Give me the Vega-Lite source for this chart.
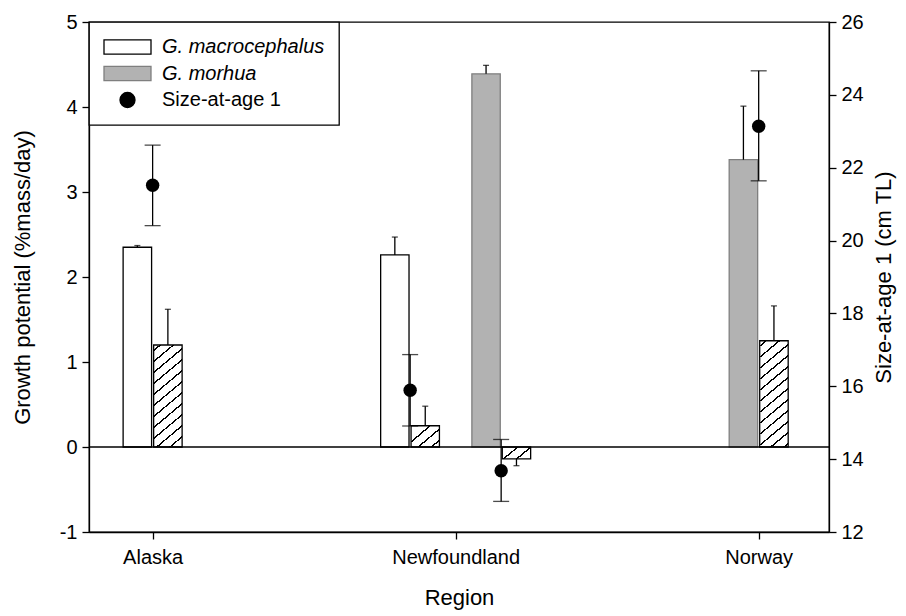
{
  "$schema": "https://vega.github.io/schema/vega-lite/v6.json",
  "width": 740,
  "height": 510,
  "autosize": {"type": "none"},
  "padding": {"left": 89, "top": 22, "right": 77, "bottom": 84},
  "background": "white",
  "datasets": {
    "bars": [
      {"Region": "Alaska", "Species": "G. macrocephalus", "Series": "G. macrocephalus (1)", "Set": 1, "Growth": 2.35, "ErrEnd": 2.37},
      {"Region": "Alaska", "Species": "G. macrocephalus", "Series": "G. macrocephalus (2)", "Set": 2, "Growth": 1.20, "ErrEnd": 1.62},
      {"Region": "Newfoundland", "Species": "G. macrocephalus", "Series": "G. macrocephalus (1)", "Set": 1, "Growth": 2.26, "ErrEnd": 2.47},
      {"Region": "Newfoundland", "Species": "G. macrocephalus", "Series": "G. macrocephalus (2)", "Set": 2, "Growth": 0.25, "ErrEnd": 0.48},
      {"Region": "Newfoundland", "Species": "G. morhua", "Series": "G. morhua (1)", "Set": 1, "Growth": 4.39, "ErrEnd": 4.49},
      {"Region": "Newfoundland", "Species": "G. morhua", "Series": "G. morhua (2)", "Set": 2, "Growth": -0.14, "ErrEnd": -0.22},
      {"Region": "Norway", "Species": "G. morhua", "Series": "G. morhua (1)", "Set": 1, "Growth": 3.38, "ErrEnd": 4.01},
      {"Region": "Norway", "Species": "G. morhua", "Series": "G. morhua (2)", "Set": 2, "Growth": 1.25, "ErrEnd": 1.66}
    ],
    "points": [
      {"Region": "Alaska", "Species": "G. macrocephalus", "Size": 21.52, "Lower": 20.41, "Upper": 22.62},
      {"Region": "Newfoundland", "Species": "G. macrocephalus", "Size": 15.89, "Lower": 14.91, "Upper": 16.87},
      {"Region": "Newfoundland", "Species": "G. morhua", "Size": 13.68, "Lower": 12.84, "Upper": 14.54},
      {"Region": "Norway", "Species": "G. morhua", "Size": 23.14, "Lower": 21.64, "Upper": 24.66}
    ],
    "baseline": [{"Baseline": 0}]
  },
  "layer": [
    {
      "layer": [
        {
          "data": {"name": "bars"},
          "encoding": {
            "x": {"field": "Region", "type": "nominal", "sort": null, "scale": {"type": "point", "domain": ["Alaska", "Newfoundland", "Norway"], "padding": 0.221, "align": 0.475}, "axis": {"title": "Region", "labelAngle": 0}}
          },
          "layer": [
            {
              "transform": [{"filter": "datum.Region === 'Alaska'"}],
              "encoding": {
                "xOffset": {"field": "Series", "type": "nominal", "scale": {"type": "band", "domain": ["G. macrocephalus (1)", "G. macrocephalus (2)"], "range": [-29.5, 29.5], "paddingInner": 0.067, "paddingOuter": 0}}
              },
              "layer": [
                {
                  "mark": {"type": "bar", "strokeWidth": 1.3},
                  "encoding": {
                    "y": {"field": "Growth", "type": "quantitative", "stack": null, "scale": {"domain": [-1, 5], "nice": false, "zero": false}, "axis": {"title": "Growth potential (%mass/day)", "values": [-1, 0, 1, 2, 3, 4, 5], "orient": "left", "labelExpr": "'' + datum.value"}},
                    "fill": {
                      "field": "Species", "type": "nominal",
                      "scale": {"domain": ["G. macrocephalus", "G. morhua", "Size-at-age 1"], "range": ["white", "#b2b2b2", "black"]},
                      "legend": {
                        "title": null,
                        "symbolType": {"expr": "datum.value === 'Size-at-age 1' ? 'M-0.32,0A0.32,0.32,0,1,1,0.32,0A0.32,0.32,0,1,1,-0.32,0Z' : 'M-1,-0.3H1V0.3H-1Z'"},
                        "symbolStrokeColor": {"expr": "datum.value === 'G. morhua' ? '#7f7f7f' : 'black'"},
                        "labelFontStyle": {"expr": "datum.value === 'Size-at-age 1' ? 'normal' : 'italic'"}
                      },
                      "condition": {"test": "datum.Set === 2", "value": {"gradient": "linear", "x1": 0, "y1": 0, "x2": 0.2729, "y2": 1.1697, "stops": [
                        {"offset": 0, "color": "white"},
                        {"offset": 0.0365, "color": "white"}, {"offset": 0.0365, "color": "black"}, {"offset": 0.0509, "color": "black"}, {"offset": 0.0509, "color": "white"},
                        {"offset": 0.1240, "color": "white"}, {"offset": 0.1240, "color": "black"}, {"offset": 0.1383, "color": "black"}, {"offset": 0.1383, "color": "white"},
                        {"offset": 0.2114, "color": "white"}, {"offset": 0.2114, "color": "black"}, {"offset": 0.2258, "color": "black"}, {"offset": 0.2258, "color": "white"},
                        {"offset": 0.2989, "color": "white"}, {"offset": 0.2989, "color": "black"}, {"offset": 0.3132, "color": "black"}, {"offset": 0.3132, "color": "white"},
                        {"offset": 0.3863, "color": "white"}, {"offset": 0.3863, "color": "black"}, {"offset": 0.4006, "color": "black"}, {"offset": 0.4006, "color": "white"},
                        {"offset": 0.4738, "color": "white"}, {"offset": 0.4738, "color": "black"}, {"offset": 0.4881, "color": "black"}, {"offset": 0.4881, "color": "white"},
                        {"offset": 0.5612, "color": "white"}, {"offset": 0.5612, "color": "black"}, {"offset": 0.5755, "color": "black"}, {"offset": 0.5755, "color": "white"},
                        {"offset": 0.6486, "color": "white"}, {"offset": 0.6486, "color": "black"}, {"offset": 0.6630, "color": "black"}, {"offset": 0.6630, "color": "white"},
                        {"offset": 0.7361, "color": "white"}, {"offset": 0.7361, "color": "black"}, {"offset": 0.7504, "color": "black"}, {"offset": 0.7504, "color": "white"},
                        {"offset": 0.8235, "color": "white"}, {"offset": 0.8235, "color": "black"}, {"offset": 0.8378, "color": "black"}, {"offset": 0.8378, "color": "white"},
                        {"offset": 0.9110, "color": "white"}, {"offset": 0.9110, "color": "black"}, {"offset": 0.9253, "color": "black"}, {"offset": 0.9253, "color": "white"},
                        {"offset": 1, "color": "white"}
                      ]}}
                    },
                    "stroke": {"value": "black"}
                  }
                },
                {
                  "mark": {"type": "rule", "color": "black", "strokeWidth": 1.3},
                  "encoding": {
                    "y": {"field": "Growth", "type": "quantitative", "scale": {"domain": [-1, 5], "nice": false, "zero": false}},
                    "y2": {"field": "ErrEnd"}
                  }
                },
                {
                  "mark": {"type": "tick", "color": "black", "thickness": 1.3, "orient": "horizontal"},
                  "encoding": {
                    "y": {"field": "ErrEnd", "type": "quantitative", "scale": {"domain": [-1, 5], "nice": false, "zero": false}},
                    "size": {"value": 6}
                  }
                }
              ]
            },
            {
              "transform": [{"filter": "datum.Region === 'Newfoundland'"}],
              "encoding": {
                "xOffset": {"field": "Series", "type": "nominal", "scale": {"type": "band", "domain": ["G. macrocephalus (1)", "G. macrocephalus (2)", " ", "G. morhua (1)", "G. morhua (2)"], "range": [-75, 75], "paddingInner": 0.067, "paddingOuter": 0}}
              },
              "layer": [
                {
                  "mark": {"type": "bar", "strokeWidth": 1.3},
                  "encoding": {
                    "y": {"field": "Growth", "type": "quantitative", "stack": null, "scale": {"domain": [-1, 5], "nice": false, "zero": false}},
                    "fill": {
                      "field": "Species", "type": "nominal",
                      "scale": {"domain": ["G. macrocephalus", "G. morhua", "Size-at-age 1"], "range": ["white", "#b2b2b2", "black"]},
                      "legend": {
                        "title": null,
                        "symbolType": {"expr": "datum.value === 'Size-at-age 1' ? 'M-0.32,0A0.32,0.32,0,1,1,0.32,0A0.32,0.32,0,1,1,-0.32,0Z' : 'M-1,-0.3H1V0.3H-1Z'"},
                        "symbolStrokeColor": {"expr": "datum.value === 'G. morhua' ? '#7f7f7f' : 'black'"},
                        "labelFontStyle": {"expr": "datum.value === 'Size-at-age 1' ? 'normal' : 'italic'"}
                      },
                      "condition": [
                        {"test": "datum.Set === 2 && datum.Growth > 0", "value": {"gradient": "linear", "x1": 0, "y1": 0, "x2": 1.0584, "y2": 0.9339, "stops": [
                          {"offset": 0, "color": "white"},
                          {"offset": 0.3370, "color": "white"}, {"offset": 0.3370, "color": "black"}, {"offset": 0.3772, "color": "black"}, {"offset": 0.3772, "color": "white"},
                          {"offset": 0.5826, "color": "white"}, {"offset": 0.5826, "color": "black"}, {"offset": 0.6228, "color": "black"}, {"offset": 0.6228, "color": "white"},
                          {"offset": 0.8281, "color": "white"}, {"offset": 0.8281, "color": "black"}, {"offset": 0.8683, "color": "black"}, {"offset": 0.8683, "color": "white"},
                          {"offset": 1, "color": "white"}
                        ]}},
                        {"test": "datum.Set === 2 && datum.Growth < 0", "value": {"gradient": "linear", "x1": 0, "y1": 0, "x2": 1.1995, "y2": 0.6048, "stops": [
                          {"offset": 0, "color": "white"},
                          {"offset": 0.3380, "color": "white"}, {"offset": 0.3380, "color": "black"}, {"offset": 0.3883, "color": "black"}, {"offset": 0.3883, "color": "white"},
                          {"offset": 0.6453, "color": "white"}, {"offset": 0.6453, "color": "black"}, {"offset": 0.6955, "color": "black"}, {"offset": 0.6955, "color": "white"},
                          {"offset": 1, "color": "white"}
                        ]}}
                      ]
                    },
                    "stroke": {"condition": {"test": "datum.Species === 'G. morhua' && datum.Set === 1", "value": "#7f7f7f"}, "value": "black"}
                  }
                },
                {
                  "mark": {"type": "rule", "color": "black", "strokeWidth": 1.3},
                  "encoding": {
                    "y": {"field": "Growth", "type": "quantitative", "scale": {"domain": [-1, 5], "nice": false, "zero": false}},
                    "y2": {"field": "ErrEnd"}
                  }
                },
                {
                  "mark": {"type": "tick", "color": "black", "thickness": 1.3, "orient": "horizontal"},
                  "encoding": {
                    "y": {"field": "ErrEnd", "type": "quantitative", "scale": {"domain": [-1, 5], "nice": false, "zero": false}},
                    "size": {"value": 6}
                  }
                }
              ]
            },
            {
              "transform": [{"filter": "datum.Region === 'Norway'"}],
              "encoding": {
                "xOffset": {"field": "Series", "type": "nominal", "scale": {"type": "band", "domain": ["G. morhua (1)", "G. morhua (2)"], "range": [-29.5, 29.5], "paddingInner": 0.067, "paddingOuter": 0}}
              },
              "layer": [
                {
                  "mark": {"type": "bar", "strokeWidth": 1.3},
                  "encoding": {
                    "y": {"field": "Growth", "type": "quantitative", "stack": null, "scale": {"domain": [-1, 5], "nice": false, "zero": false}},
                    "fill": {
                      "field": "Species", "type": "nominal",
                      "scale": {"domain": ["G. macrocephalus", "G. morhua", "Size-at-age 1"], "range": ["white", "#b2b2b2", "black"]},
                      "legend": {
                        "title": null,
                        "symbolType": {"expr": "datum.value === 'Size-at-age 1' ? 'M-0.32,0A0.32,0.32,0,1,1,0.32,0A0.32,0.32,0,1,1,-0.32,0Z' : 'M-1,-0.3H1V0.3H-1Z'"},
                        "symbolStrokeColor": {"expr": "datum.value === 'G. morhua' ? '#7f7f7f' : 'black'"},
                        "labelFontStyle": {"expr": "datum.value === 'Size-at-age 1' ? 'normal' : 'italic'"}
                      },
                      "condition": {"test": "datum.Set === 2", "value": {"gradient": "linear", "x1": 0, "y1": 0, "x2": 0.2611, "y2": 1.1656, "stops": [
                        {"offset": 0, "color": "white"},
                        {"offset": 0.0354, "color": "white"}, {"offset": 0.0354, "color": "black"}, {"offset": 0.0492, "color": "black"}, {"offset": 0.0492, "color": "white"},
                        {"offset": 0.1200, "color": "white"}, {"offset": 0.1200, "color": "black"}, {"offset": 0.1338, "color": "black"}, {"offset": 0.1338, "color": "white"},
                        {"offset": 0.2046, "color": "white"}, {"offset": 0.2046, "color": "black"}, {"offset": 0.2184, "color": "black"}, {"offset": 0.2184, "color": "white"},
                        {"offset": 0.2891, "color": "white"}, {"offset": 0.2891, "color": "black"}, {"offset": 0.3030, "color": "black"}, {"offset": 0.3030, "color": "white"},
                        {"offset": 0.3737, "color": "white"}, {"offset": 0.3737, "color": "black"}, {"offset": 0.3875, "color": "black"}, {"offset": 0.3875, "color": "white"},
                        {"offset": 0.4583, "color": "white"}, {"offset": 0.4583, "color": "black"}, {"offset": 0.4721, "color": "black"}, {"offset": 0.4721, "color": "white"},
                        {"offset": 0.5429, "color": "white"}, {"offset": 0.5429, "color": "black"}, {"offset": 0.5567, "color": "black"}, {"offset": 0.5567, "color": "white"},
                        {"offset": 0.6275, "color": "white"}, {"offset": 0.6275, "color": "black"}, {"offset": 0.6413, "color": "black"}, {"offset": 0.6413, "color": "white"},
                        {"offset": 0.7121, "color": "white"}, {"offset": 0.7121, "color": "black"}, {"offset": 0.7259, "color": "black"}, {"offset": 0.7259, "color": "white"},
                        {"offset": 0.7966, "color": "white"}, {"offset": 0.7966, "color": "black"}, {"offset": 0.8104, "color": "black"}, {"offset": 0.8104, "color": "white"},
                        {"offset": 0.8812, "color": "white"}, {"offset": 0.8812, "color": "black"}, {"offset": 0.8950, "color": "black"}, {"offset": 0.8950, "color": "white"},
                        {"offset": 0.9658, "color": "white"}, {"offset": 0.9658, "color": "black"}, {"offset": 0.9796, "color": "black"}, {"offset": 0.9796, "color": "white"},
                        {"offset": 1, "color": "white"}
                      ]}}
                    },
                    "stroke": {"condition": {"test": "datum.Set === 1", "value": "#7f7f7f"}, "value": "black"}
                  }
                },
                {
                  "mark": {"type": "rule", "color": "black", "strokeWidth": 1.3},
                  "encoding": {
                    "y": {"field": "Growth", "type": "quantitative", "scale": {"domain": [-1, 5], "nice": false, "zero": false}},
                    "y2": {"field": "ErrEnd"}
                  }
                },
                {
                  "mark": {"type": "tick", "color": "black", "thickness": 1.3, "orient": "horizontal"},
                  "encoding": {
                    "y": {"field": "ErrEnd", "type": "quantitative", "scale": {"domain": [-1, 5], "nice": false, "zero": false}},
                    "size": {"value": 6}
                  }
                }
              ]
            }
          ],
          "resolve": {"scale": {"xOffset": "independent"}}
        },
        {
          "data": {"name": "baseline"},
          "mark": {"type": "rule", "color": "black", "strokeWidth": 1.3},
          "encoding": {
            "y": {"field": "Baseline", "type": "quantitative", "scale": {"domain": [-1, 5], "nice": false, "zero": false}}
          }
        }
      ]
    },
    {
      "data": {"name": "points"},
      "encoding": {
        "x": {"field": "Region", "type": "nominal", "sort": null, "scale": {"type": "point", "domain": ["Alaska", "Newfoundland", "Norway"], "padding": 0.221, "align": 0.475}, "axis": {"title": "Region", "labelAngle": 0}}
      },
      "layer": [
        {
          "transform": [{"filter": "datum.Region !== 'Newfoundland'"}],
          "layer": [
            {
              "mark": {"type": "rule", "color": "black", "strokeWidth": 1.3},
              "encoding": {
                "y": {"field": "Lower", "type": "quantitative", "scale": {"domain": [12, 26], "nice": false, "zero": false}, "axis": {"title": "Size-at-age 1 (cm TL)", "values": [12, 14, 16, 18, 20, 22, 24, 26], "orient": "right", "titleAngle": 270, "titleBaseline": "top"}},
                "y2": {"field": "Upper"}
              }
            },
            {
              "mark": {"type": "tick", "color": "black", "thickness": 1.3, "orient": "horizontal"},
              "encoding": {
                "y": {"field": "Lower", "type": "quantitative", "scale": {"domain": [12, 26], "nice": false, "zero": false}},
                "size": {"value": 16}
              }
            },
            {
              "mark": {"type": "tick", "color": "black", "thickness": 1.3, "orient": "horizontal"},
              "encoding": {
                "y": {"field": "Upper", "type": "quantitative", "scale": {"domain": [12, 26], "nice": false, "zero": false}},
                "size": {"value": 16}
              }
            },
            {
              "mark": {"type": "point", "filled": true, "size": 180, "opacity": 1},
              "encoding": {
                "y": {"field": "Size", "type": "quantitative", "scale": {"domain": [12, 26], "nice": false, "zero": false}},
                "fill": {"datum": "Size-at-age 1", "type": "nominal", "scale": {"domain": ["G. macrocephalus", "G. morhua", "Size-at-age 1"], "range": ["white", "#b2b2b2", "black"]},
                  "legend": {
                    "title": null,
                    "symbolType": {"expr": "datum.value === 'Size-at-age 1' ? 'M-0.32,0A0.32,0.32,0,1,1,0.32,0A0.32,0.32,0,1,1,-0.32,0Z' : 'M-1,-0.3H1V0.3H-1Z'"},
                    "symbolStrokeColor": {"expr": "datum.value === 'G. morhua' ? '#7f7f7f' : 'black'"},
                    "labelFontStyle": {"expr": "datum.value === 'Size-at-age 1' ? 'normal' : 'italic'"}
                  }
                }
              }
            }
          ]
        },
        {
          "transform": [{"filter": "datum.Region === 'Newfoundland'"}],
          "encoding": {
            "xOffset": {"field": "Species", "type": "nominal", "scale": {"type": "band", "domain": ["G. macrocephalus", "G. morhua"], "range": [-91, 91], "paddingInner": 0, "paddingOuter": 0}}
          },
          "layer": [
            {
              "mark": {"type": "rule", "color": "black", "strokeWidth": 1.3},
              "encoding": {
                "y": {"field": "Lower", "type": "quantitative", "scale": {"domain": [12, 26], "nice": false, "zero": false}},
                "y2": {"field": "Upper"}
              }
            },
            {
              "mark": {"type": "tick", "color": "black", "thickness": 1.3, "orient": "horizontal"},
              "encoding": {
                "y": {"field": "Lower", "type": "quantitative", "scale": {"domain": [12, 26], "nice": false, "zero": false}},
                "size": {"value": 16}
              }
            },
            {
              "mark": {"type": "tick", "color": "black", "thickness": 1.3, "orient": "horizontal"},
              "encoding": {
                "y": {"field": "Upper", "type": "quantitative", "scale": {"domain": [12, 26], "nice": false, "zero": false}},
                "size": {"value": 16}
              }
            },
            {
              "mark": {"type": "point", "filled": true, "size": 180, "opacity": 1},
              "encoding": {
                "y": {"field": "Size", "type": "quantitative", "scale": {"domain": [12, 26], "nice": false, "zero": false}},
                "fill": {"datum": "Size-at-age 1", "type": "nominal", "scale": {"domain": ["G. macrocephalus", "G. morhua", "Size-at-age 1"], "range": ["white", "#b2b2b2", "black"]},
                  "legend": {
                    "title": null,
                    "symbolType": {"expr": "datum.value === 'Size-at-age 1' ? 'M-0.32,0A0.32,0.32,0,1,1,0.32,0A0.32,0.32,0,1,1,-0.32,0Z' : 'M-1,-0.3H1V0.3H-1Z'"},
                    "symbolStrokeColor": {"expr": "datum.value === 'G. morhua' ? '#7f7f7f' : 'black'"},
                    "labelFontStyle": {"expr": "datum.value === 'Size-at-age 1' ? 'normal' : 'italic'"}
                  }
                }
              }
            }
          ]
        }
      ],
      "resolve": {"scale": {"xOffset": "independent"}}
    }
  ],
  "resolve": {"scale": {"y": "independent"}, "axis": {"y": "independent"}},
  "config": {
    "font": "Liberation Sans",
    "view": {"stroke": "black", "strokeWidth": 1.3},
    "axis": {
      "domainColor": "black", "domainWidth": 1.3, "tickColor": "black", "tickWidth": 1.3, "tickSize": 7,
      "labelColor": "black", "labelFont": "Liberation Sans", "labelFontSize": 20, "labelPadding": 5,
      "titleFont": "Liberation Sans", "titleFontSize": 22, "titleFontWeight": "normal", "titleColor": "black",
      "grid": false
    },
    "axisX": {"labelPadding": 8, "titlePadding": 20},
    "axisLeft": {"titlePadding": 25},
    "axisRight": {"titlePadding": 10},
    "legend": {
      "orient": "top-left", "offset": 0, "padding": 14,
      "strokeColor": "black", "strokeWidth": 1.3, "fillColor": "white",
      "labelFont": "Liberation Sans", "labelFontSize": 20, "labelColor": "black", "labelLimit": 300,
      "symbolSize": 2209, "symbolStrokeWidth": 1.3, "labelOffset": 10,
      "clipHeight": 22, "rowPadding": 4.5
    }
  }
}
